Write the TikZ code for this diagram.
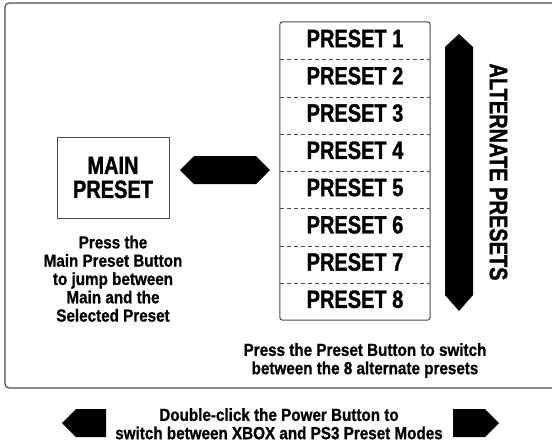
\documentclass[tikz,border=0pt]{standalone}
\usepackage{fontspec}
\newfontfamily\bigfont{Liberation Sans}[FakeStretch=0.8,FakeBold=1.2]
\newfontfamily\smallfont{Liberation Sans}[FakeStretch=0.87,FakeBold=0.8]
\usetikzlibrary{positioning}

\tikzset{
	preset/.style={minimum width=150pt,minimum height=37.25pt,inner sep=0pt,
		font=\bigfont\bfseries\fontsize{25}{25}\selectfont,text height=18pt,text depth=5pt},
	note/.style={align=center,inner sep=0pt,
		font=\smallfont\bfseries\fontsize{17.5}{18.3}\selectfont},
	frame/.style={draw=black!70,line width=1pt}
}

\begin{document}
\begin{tikzpicture}[x=1pt,y=-1pt]
	\useasboundingbox (0,0) rectangle (552,442);
	\clip (0,0) rectangle (552,442);
	\draw [frame,line width=1.2pt,rounded corners=4pt] (5,3) rectangle (575,388);

	\node [frame,minimum width=112pt,minimum height=81pt,align=center,inner sep=0pt,
		font=\bigfont\bfseries\fontsize{25}{24}\selectfont] (0) at (113,177.5) {MAIN\\PRESET};

	\node [preset] (1) at (355,40.6) {PRESET 1};
	\node [preset] (2) at (355,77.9) {PRESET 2};
	\node [preset] (3) at (355,115.1) {PRESET 3};
	\node [preset] (4) at (355,152.4) {PRESET 4};
	\node [preset] (5) at (355,189.6) {PRESET 5};
	\node [preset] (6) at (355,226.9) {PRESET 6};
	\node [preset] (7) at (355,264.1) {PRESET 7};
	\node [preset] (8) at (355,301.4) {PRESET 8};
	\draw [frame,rounded corners=3pt] (1.north west) rectangle (8.south east);

	\path [draw=black!70,dash pattern=on 4pt off 3pt]
	(1.south west) edge (1.south east)
	(2.south west) edge (2.south east)
	(3.south west) edge (3.south east)
	(4.south west) edge (4.south east)
	(5.south west) edge (5.south east)
	(6.south west) edge (6.south east)
	(7.south west) edge (7.south east);

	% arrows
	\fill (180,170) -- (194,156) -- (256,156) -- (270,170) -- (256,184) -- (194,184) -- cycle;
	\fill (459,34) -- (473,47) -- (473,295) -- (459,311) -- (445,295) -- (445,47) -- cycle;
	\fill (62,423) -- (76,409) -- (106,409) -- (106,437) -- (76,437) -- cycle;
	\fill (453,409) -- (485,409) -- (499,423) -- (485,437) -- (453,437) -- cycle;

	\node [rotate=-90,inner sep=0pt,font=\bigfont\bfseries\fontsize{25}{25}\selectfont]
		(alt) at (498.5,172) {ALTERNATE PRESETS};

	\node [note,anchor=north] (mainnote) at (113,235.5)
		{Press the\\Main Preset Button\\to jump between\\Main and the\\Selected Preset};
	\node [note,anchor=north] (presetnote) at (365,343)
		{Press the Preset Button to switch\\between the 8 alternate presets};
	\node [note,anchor=north] (modenote) at (279,408)
		{Double-click the Power Button to\\switch between XBOX and PS3 Preset Modes};
\end{tikzpicture}
\end{document}
